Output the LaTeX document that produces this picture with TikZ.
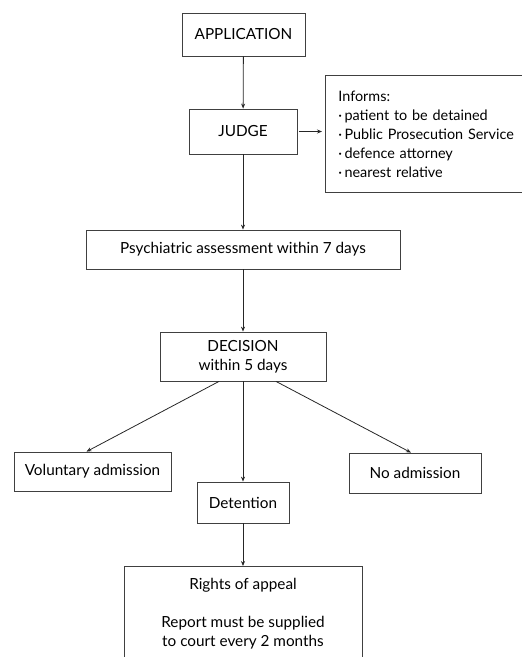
\documentclass[tikz,border=0pt]{standalone}
\usepackage{fontspec}
\setmainfont{Lato}
\usetikzlibrary{arrows.meta}

\begin{document}
\begin{tikzpicture}[x=1pt, y=-1pt, >={Stealth[length=5pt,width=4pt]},
    box/.style={draw=black!75, line width=0.8pt, align=center, inner sep=0pt,
      font=\fontsize{15.3}{19}\selectfont},
    conn/.style={->, draw=black!85, line width=0.8pt}]
    \clip (0,0) rectangle (522,657);
    \node[box, minimum width=123, minimum height=43] (A) at (243.5,34.5) {APPLICATION};
    \node[box, minimum width=108, minimum height=45] (B) at (243,131.5) {JUDGE};
    \node[box, anchor=north west, minimum width=240, minimum height=117,
      text width=214, inner xsep=13, align=left, font=\fontsize{14.4}{19}\selectfont] (I) at (325,75)
      {Informs:\\·\,patient to be detained\\·\,Public Prosecution Service\\·\,defence attorney\\·\,nearest relative};
    \node[box, minimum width=314, minimum height=39] (C) at (243,249.5) {Psychiatric assessment within 7 days};
    \node[box, minimum width=166, minimum height=49] (D) at (243,356.5) {DECISION\\within 5 days};
    \node[box, minimum width=157, minimum height=39] (V) at (92.5,471.5) {Voluntary admission};
    \node[box, minimum width=92, minimum height=41] (E) at (243,502.5) {Detention};
    \node[box, minimum width=132, minimum height=40] (N) at (415,473) {No admission};
    \node[box, anchor=north, minimum width=238, inner ysep=12] (R) at (243,566)
      {Rights of appeal\\[19pt]Report must be supplied\\to court every 2 months};
    \draw [conn] (A) -- (B);
    \draw [conn] ([xshift=2pt]B.east) -- ([xshift=-3pt]I.west |- B.east);
    \draw [conn] (B) -- (C);
    \draw [conn] (C) -- (D);
    \draw [conn] ([xshift=-24pt]D.south) -- ([xshift=-6pt]V.north);
    \draw [conn] (D) -- (E);
    \draw [conn] ([xshift=33pt]D.south) -- ([xshift=-4pt]N.north);
    \draw [conn] (E) -- (R);
  \end{tikzpicture}
\end{document}
